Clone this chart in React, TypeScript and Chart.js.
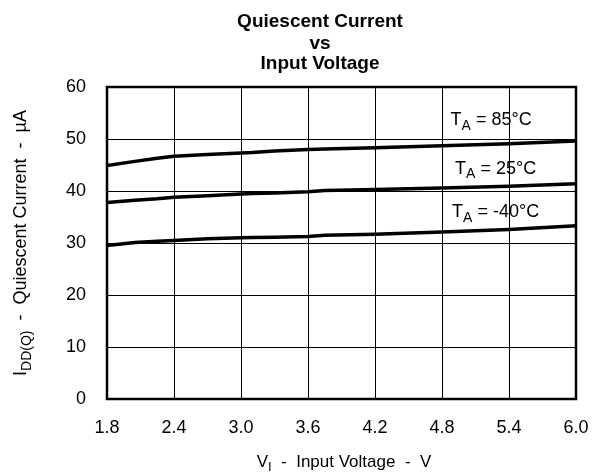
import React, { useEffect, useRef } from "react";
import { Chart, registerables } from "chart.js";

Chart.register(...registerables);

const voltages = [1.8, 2.05, 2.25, 2.4, 2.7, 3.0, 3.1, 3.3, 3.6, 3.75, 4.2, 4.8, 5.4, 6.0];
const current85 = [44.9, 45.7, 46.3, 46.7, 47.0, 47.3, 47.4, 47.7, 48.0, 48.1, 48.3, 48.7, 49.1, 49.6];
const current25 = [37.8, 38.2, 38.5, 38.8, 39.1, 39.4, 39.5, 39.6, 39.85, 40.1, 40.3, 40.6, 40.9, 41.4];
const currentM40 = [29.5, 30.1, 30.35, 30.5, 30.8, 31.0, 31.05, 31.1, 31.25, 31.5, 31.7, 32.1, 32.6, 33.3];
const xTicks = [1.8, 2.4, 3.0, 3.6, 4.2, 4.8, 5.4, 6.0];
const yTicks = [0, 10, 20, 30, 40, 50, 60];
const titleLines = ["Quiescent Current", "vs", "Input Voltage"];
const seriesLabels = [
  { temp: "85°C", x: 5.24, y: 53.6 },
  { temp: "25°C", x: 5.28, y: 44.3 },
  { temp: "-40°C", x: 5.28, y: 35.9 },
];

const FONT = "Liberation Sans, Arial, sans-serif";

function drawSub(ctx: CanvasRenderingContext2D, parts: { t: string; sub?: boolean }[], cx: number, cy: number, size: number) {
  const main = `${size}px ${FONT}`;
  const sub = `${Math.round(size * 0.78)}px ${FONT}`;
  let total = 0;
  for (const p of parts) {
    ctx.font = p.sub ? sub : main;
    total += ctx.measureText(p.t).width;
  }
  let x = cx - total / 2;
  ctx.textBaseline = "middle";
  ctx.textAlign = "left";
  for (const p of parts) {
    ctx.font = p.sub ? sub : main;
    ctx.fillText(p.t, x, p.sub ? cy + size * 0.32 : cy);
    x += ctx.measureText(p.t).width;
  }
}

const textPlugin = {
  id: "textPlugin",
  afterDraw(chart: any) {
    const ctx: CanvasRenderingContext2D = chart.ctx;
    const { chartArea, scales } = chart;
    ctx.save();
    ctx.fillStyle = "#000";
    ctx.strokeStyle = "#000";
    ctx.lineWidth = 2.5;
    ctx.strokeRect(chartArea.left, chartArea.top, chartArea.right - chartArea.left, chartArea.bottom - chartArea.top);
    // title
    ctx.font = `bold 19px ${FONT}`;
    ctx.textAlign = "center";
    ctx.textBaseline = "alphabetic";
    const ty = [27.3, 48.5, 69];
    titleLines.forEach((t, i) => ctx.fillText(t, 320, ty[i]));
    // series labels
    for (const s of seriesLabels) {
      const px = scales.x.getPixelForValue(s.x);
      const py = scales.y.getPixelForValue(s.y);
      drawSub(ctx, [{ t: "T" }, { t: "A", sub: true }, { t: " = " + s.temp }], px, py, 18);
    }
    // x axis title
    drawSub(ctx, [{ t: "V" }, { t: "I", sub: true }, { t: "  -  Input Voltage  -  V" }], 344, 462, 17);
    // y axis title
    ctx.translate(21, 243);
    ctx.rotate(-Math.PI / 2);
    drawSub(ctx, [{ t: "I" }, { t: "DD(Q)", sub: true }, { t: "  -  Quiescent Current  -  µA" }], 0, 0, 18);
    ctx.restore();
  },
};

export default function App() {
  const ref = useRef<HTMLCanvasElement>(null);
  useEffect(() => {
    document.body.style.margin = "0";
    const mk = (data: number[]) => ({
      data: voltages.map((v, i) => ({ x: v, y: data[i] })),
      borderColor: "#000",
      borderWidth: 3.5,
      pointRadius: 0,
      tension: 0,
      fill: false,
    });
    const chart = new Chart(ref.current!, {
      type: "line",
      data: { datasets: [mk(current85), mk(current25), mk(currentM40)] },
      options: {
        animation: false,
        responsive: false,
        layout: { padding: { top: 87, right: 18, left: 0, bottom: 0 } },
        plugins: { legend: { display: false }, tooltip: { enabled: false } },
        scales: {
          x: {
            type: "linear",
            min: 1.8,
            max: 6.0,
            afterBuildTicks: (s: any) => { s.ticks = xTicks.map((v) => ({ value: v })); },
            afterFit: (s: any) => { s.height = 75; s.paddingLeft = 0; s.paddingRight = 0; },
            grid: { color: "#000", lineWidth: 1, drawTicks: false },
            border: { display: false },
            ticks: { color: "#000", font: { family: FONT, size: 18 }, padding: 18, maxRotation: 0, callback: (v: any) => Number(v).toFixed(1) },
          },
          y: {
            type: "linear",
            min: 0,
            max: 60,
            afterBuildTicks: (s: any) => { s.ticks = yTicks.map((v) => ({ value: v })); },
            afterFit: (s: any) => { s.width = 107; s.paddingTop = 0; s.paddingBottom = 0; },
            grid: { color: "#000", lineWidth: 1, drawTicks: false },
            border: { display: false },
            ticks: { color: "#000", font: { family: FONT, size: 18 }, padding: 21 },
          },
        },
      },
      plugins: [textPlugin],
    } as any);
    return () => chart.destroy();
  }, []);
  return <canvas ref={ref} width={594} height={474} style={{ display: "block" }} />;
}
